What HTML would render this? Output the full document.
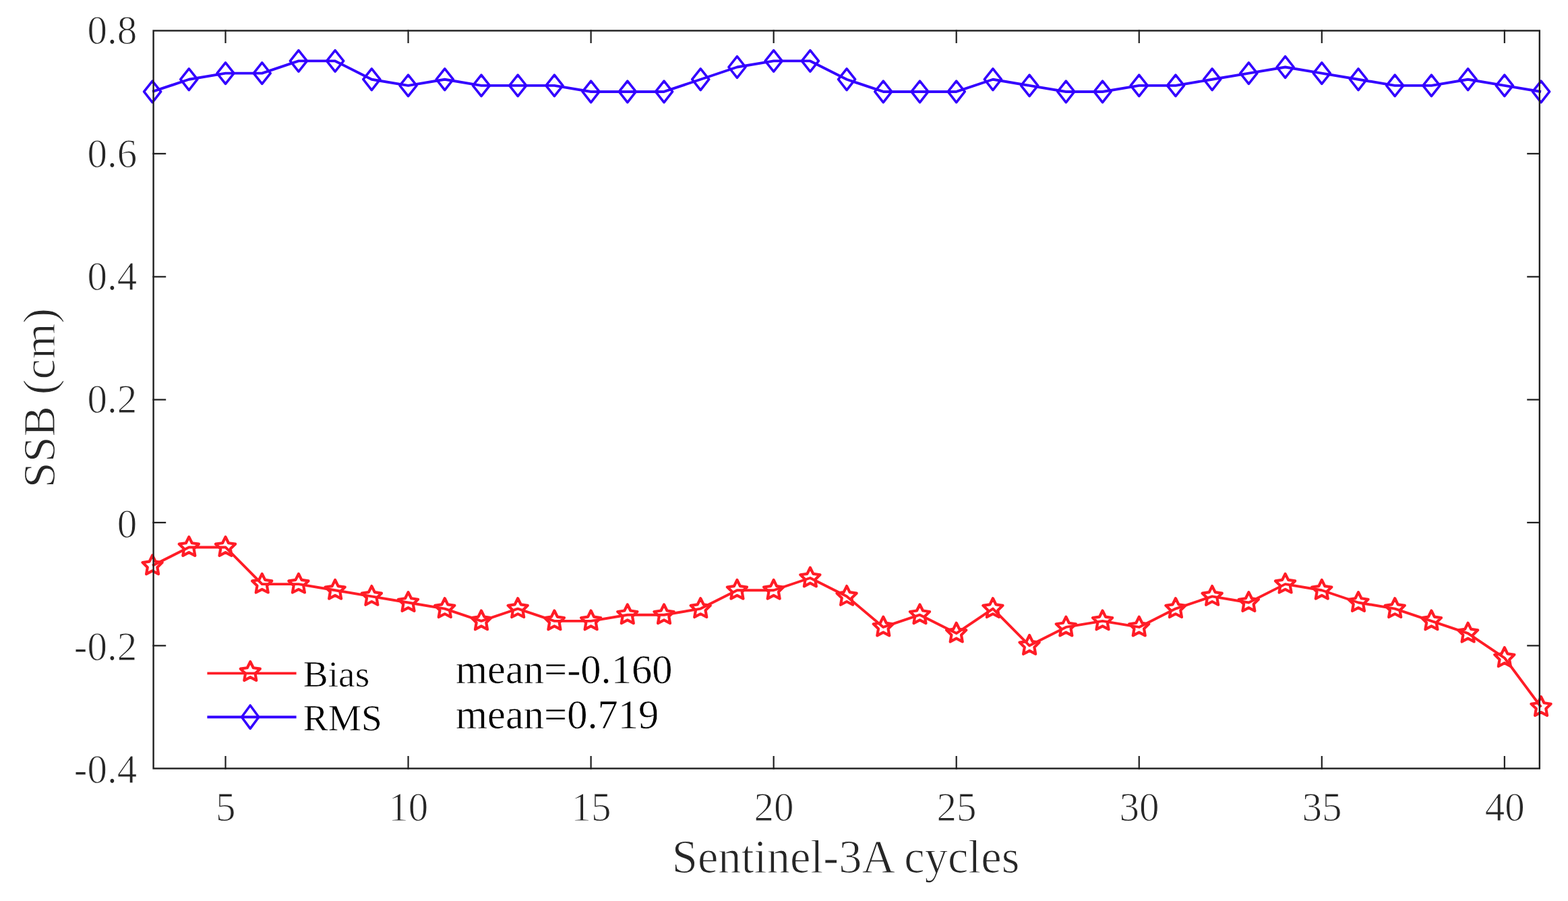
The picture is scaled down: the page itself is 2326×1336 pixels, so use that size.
<!DOCTYPE html><html><head><meta charset="utf-8"><style>html,body{margin:0;padding:0;background:#fff;width:2326px;height:1336px;overflow:hidden}svg{display:block}text{font-family:"Liberation Serif","Times New Roman",serif;stroke:#fff;stroke-width:1.1px}</style></head><body>
<svg width="2326" height="1336" viewBox="0 0 2326 1336">
<rect width="2326" height="1336" fill="#fff"/>
<polyline points="226.10,135.97 280.31,117.74 334.52,108.62 388.73,108.62 442.94,90.39 497.14,90.39 551.35,117.74 605.56,126.85 659.77,117.74 713.98,126.85 768.19,126.85 822.40,126.85 876.61,135.97 930.82,135.97 985.03,135.97 1039.23,117.74 1093.44,99.50 1147.65,90.39 1201.86,90.39 1256.07,117.74 1310.28,135.97 1364.49,135.97 1418.70,135.97 1472.91,117.74 1527.12,126.85 1581.33,135.97 1635.53,135.97 1689.74,126.85 1743.95,126.85 1798.16,117.74 1852.37,108.62 1906.58,99.50 1960.79,108.62 2015.00,117.74 2069.21,126.85 2123.41,126.85 2177.62,117.74 2231.83,126.85 2286.04,135.97" fill="none" stroke="#3300ff" stroke-width="3.9" stroke-linejoin="round" stroke-linecap="butt"/>
<polyline points="226.10,838.78 280.31,811.43 334.52,811.43 388.73,866.13 442.94,866.13 497.14,875.25 551.35,884.36 605.56,893.48 659.77,902.60 713.98,920.83 768.19,902.60 822.40,920.83 876.61,920.83 930.82,911.72 985.03,911.72 1039.23,902.60 1093.44,875.25 1147.65,875.25 1201.86,857.01 1256.07,884.36 1310.28,929.95 1364.49,911.72 1418.70,939.07 1472.91,902.60 1527.12,957.30 1581.33,929.95 1635.53,920.83 1689.74,929.95 1743.95,902.60 1798.16,884.36 1852.37,893.48 1906.58,866.13 1960.79,875.25 2015.00,893.48 2069.21,902.60 2123.41,920.83 2177.62,939.07 2231.83,975.53 2286.04,1048.47" fill="none" stroke="#ff1c26" stroke-width="3.9" stroke-linejoin="round" stroke-linecap="butt"/>
<path d="M226.10 120.17L238.60 135.97L226.10 151.77L213.60 135.97ZM280.31 101.94L292.81 117.74L280.31 133.54L267.81 117.74ZM334.52 92.82L347.02 108.62L334.52 124.42L322.02 108.62ZM388.73 92.82L401.23 108.62L388.73 124.42L376.23 108.62ZM442.94 74.59L455.44 90.39L442.94 106.19L430.44 90.39ZM497.14 74.59L509.64 90.39L497.14 106.19L484.64 90.39ZM551.35 101.94L563.85 117.74L551.35 133.54L538.85 117.74ZM605.56 111.05L618.06 126.85L605.56 142.65L593.06 126.85ZM659.77 101.94L672.27 117.74L659.77 133.54L647.27 117.74ZM713.98 111.05L726.48 126.85L713.98 142.65L701.48 126.85ZM768.19 111.05L780.69 126.85L768.19 142.65L755.69 126.85ZM822.40 111.05L834.90 126.85L822.40 142.65L809.90 126.85ZM876.61 120.17L889.11 135.97L876.61 151.77L864.11 135.97ZM930.82 120.17L943.32 135.97L930.82 151.77L918.32 135.97ZM985.03 120.17L997.53 135.97L985.03 151.77L972.53 135.97ZM1039.23 101.94L1051.73 117.74L1039.23 133.54L1026.73 117.74ZM1093.44 83.70L1105.94 99.50L1093.44 115.30L1080.94 99.50ZM1147.65 74.59L1160.15 90.39L1147.65 106.19L1135.15 90.39ZM1201.86 74.59L1214.36 90.39L1201.86 106.19L1189.36 90.39ZM1256.07 101.94L1268.57 117.74L1256.07 133.54L1243.57 117.74ZM1310.28 120.17L1322.78 135.97L1310.28 151.77L1297.78 135.97ZM1364.49 120.17L1376.99 135.97L1364.49 151.77L1351.99 135.97ZM1418.70 120.17L1431.20 135.97L1418.70 151.77L1406.20 135.97ZM1472.91 101.94L1485.41 117.74L1472.91 133.54L1460.41 117.74ZM1527.12 111.05L1539.62 126.85L1527.12 142.65L1514.62 126.85ZM1581.33 120.17L1593.83 135.97L1581.33 151.77L1568.83 135.97ZM1635.53 120.17L1648.03 135.97L1635.53 151.77L1623.03 135.97ZM1689.74 111.05L1702.24 126.85L1689.74 142.65L1677.24 126.85ZM1743.95 111.05L1756.45 126.85L1743.95 142.65L1731.45 126.85ZM1798.16 101.94L1810.66 117.74L1798.16 133.54L1785.66 117.74ZM1852.37 92.82L1864.87 108.62L1852.37 124.42L1839.87 108.62ZM1906.58 83.70L1919.08 99.50L1906.58 115.30L1894.08 99.50ZM1960.79 92.82L1973.29 108.62L1960.79 124.42L1948.29 108.62ZM2015.00 101.94L2027.50 117.74L2015.00 133.54L2002.50 117.74ZM2069.21 111.05L2081.71 126.85L2069.21 142.65L2056.71 126.85ZM2123.41 111.05L2135.91 126.85L2123.41 142.65L2110.91 126.85ZM2177.62 101.94L2190.12 117.74L2177.62 133.54L2165.12 117.74ZM2231.83 111.05L2244.33 126.85L2231.83 142.65L2219.33 126.85ZM2286.04 120.17L2298.54 135.97L2286.04 151.77L2273.54 135.97Z" fill="none" stroke="#3300ff" stroke-width="3.6" stroke-linejoin="round"/>
<path d="M226.10 823.48L230.60 832.59L240.65 834.05L233.38 841.14L235.09 851.16L226.10 846.43L217.11 851.16L218.82 841.14L211.55 834.05L221.60 832.59ZM280.31 796.13L284.81 805.24L294.86 806.70L287.58 813.79L289.30 823.81L280.31 819.08L271.32 823.81L273.03 813.79L265.76 806.70L275.81 805.24ZM334.52 796.13L339.01 805.24L349.07 806.70L341.79 813.79L343.51 823.81L334.52 819.08L325.52 823.81L327.24 813.79L319.97 806.70L330.02 805.24ZM388.73 850.83L393.22 859.94L403.28 861.40L396.00 868.49L397.72 878.51L388.73 873.78L379.73 878.51L381.45 868.49L374.18 861.40L384.23 859.94ZM442.94 850.83L447.43 859.94L457.49 861.40L450.21 868.49L451.93 878.51L442.94 873.78L433.94 878.51L435.66 868.49L428.38 861.40L438.44 859.94ZM497.14 859.95L501.64 869.06L511.70 870.52L504.42 877.61L506.14 887.62L497.14 882.90L488.15 887.62L489.87 877.61L482.59 870.52L492.65 869.06ZM551.35 869.06L555.85 878.18L565.91 879.64L558.63 886.73L560.35 896.74L551.35 892.01L542.36 896.74L544.08 886.73L536.80 879.64L546.86 878.18ZM605.56 878.18L610.06 887.29L620.11 888.75L612.84 895.84L614.56 905.86L605.56 901.13L596.57 905.86L598.29 895.84L591.01 888.75L601.07 887.29ZM659.77 887.30L664.27 896.41L674.32 897.87L667.05 904.96L668.77 914.98L659.77 910.25L650.78 914.98L652.50 904.96L645.22 897.87L655.28 896.41ZM713.98 905.53L718.48 914.64L728.53 916.10L721.26 923.20L722.97 933.21L713.98 928.48L704.99 933.21L706.71 923.20L699.43 916.10L709.48 914.64ZM768.19 887.30L772.69 896.41L782.74 897.87L775.47 904.96L777.18 914.98L768.19 910.25L759.20 914.98L760.91 904.96L753.64 897.87L763.69 896.41ZM822.40 905.53L826.90 914.64L836.95 916.10L829.67 923.20L831.39 933.21L822.40 928.48L813.41 933.21L815.12 923.20L807.85 916.10L817.90 914.64ZM876.61 905.53L881.10 914.64L891.16 916.10L883.88 923.20L885.60 933.21L876.61 928.48L867.61 933.21L869.33 923.20L862.06 916.10L872.11 914.64ZM930.82 896.42L935.31 905.53L945.37 906.99L938.09 914.08L939.81 924.09L930.82 919.37L921.82 924.09L923.54 914.08L916.27 906.99L926.32 905.53ZM985.03 896.42L989.52 905.53L999.58 906.99L992.30 914.08L994.02 924.09L985.03 919.37L976.03 924.09L977.75 914.08L970.47 906.99L980.53 905.53ZM1039.23 887.30L1043.73 896.41L1053.79 897.87L1046.51 904.96L1048.23 914.98L1039.23 910.25L1030.24 914.98L1031.96 904.96L1024.68 897.87L1034.74 896.41ZM1093.44 859.95L1097.94 869.06L1108.00 870.52L1100.72 877.61L1102.44 887.62L1093.44 882.90L1084.45 887.62L1086.17 877.61L1078.89 870.52L1088.95 869.06ZM1147.65 859.95L1152.15 869.06L1162.20 870.52L1154.93 877.61L1156.65 887.62L1147.65 882.90L1138.66 887.62L1140.38 877.61L1133.10 870.52L1143.16 869.06ZM1201.86 841.71L1206.36 850.82L1216.41 852.29L1209.14 859.38L1210.86 869.39L1201.86 864.66L1192.87 869.39L1194.59 859.38L1187.31 852.29L1197.37 850.82ZM1256.07 869.06L1260.57 878.18L1270.62 879.64L1263.35 886.73L1265.06 896.74L1256.07 892.01L1247.08 896.74L1248.80 886.73L1241.52 879.64L1251.57 878.18ZM1310.28 914.65L1314.78 923.76L1324.83 925.22L1317.56 932.31L1319.27 942.33L1310.28 937.60L1301.29 942.33L1303.00 932.31L1295.73 925.22L1305.78 923.76ZM1364.49 896.42L1368.99 905.53L1379.04 906.99L1371.76 914.08L1373.48 924.09L1364.49 919.37L1355.50 924.09L1357.21 914.08L1349.94 906.99L1359.99 905.53ZM1418.70 923.77L1423.19 932.88L1433.25 934.34L1425.97 941.43L1427.69 951.44L1418.70 946.72L1409.70 951.44L1411.42 941.43L1404.15 934.34L1414.20 932.88ZM1472.91 887.30L1477.40 896.41L1487.46 897.87L1480.18 904.96L1481.90 914.98L1472.91 910.25L1463.91 914.98L1465.63 904.96L1458.36 897.87L1468.41 896.41ZM1527.12 942.00L1531.61 951.11L1541.67 952.57L1534.39 959.66L1536.11 969.68L1527.12 964.95L1518.12 969.68L1519.84 959.66L1512.56 952.57L1522.62 951.11ZM1581.33 914.65L1585.82 923.76L1595.88 925.22L1588.60 932.31L1590.32 942.33L1581.33 937.60L1572.33 942.33L1574.05 932.31L1566.77 925.22L1576.83 923.76ZM1635.53 905.53L1640.03 914.64L1650.09 916.10L1642.81 923.20L1644.53 933.21L1635.53 928.48L1626.54 933.21L1628.26 923.20L1620.98 916.10L1631.04 914.64ZM1689.74 914.65L1694.24 923.76L1704.29 925.22L1697.02 932.31L1698.74 942.33L1689.74 937.60L1680.75 942.33L1682.47 932.31L1675.19 925.22L1685.25 923.76ZM1743.95 887.30L1748.45 896.41L1758.50 897.87L1751.23 904.96L1752.95 914.98L1743.95 910.25L1734.96 914.98L1736.68 904.96L1729.40 897.87L1739.46 896.41ZM1798.16 869.06L1802.66 878.18L1812.71 879.64L1805.44 886.73L1807.15 896.74L1798.16 892.01L1789.17 896.74L1790.89 886.73L1783.61 879.64L1793.66 878.18ZM1852.37 878.18L1856.87 887.29L1866.92 888.75L1859.65 895.84L1861.36 905.86L1852.37 901.13L1843.38 905.86L1845.09 895.84L1837.82 888.75L1847.87 887.29ZM1906.58 850.83L1911.08 859.94L1921.13 861.40L1913.85 868.49L1915.57 878.51L1906.58 873.78L1897.59 878.51L1899.30 868.49L1892.03 861.40L1902.08 859.94ZM1960.79 859.95L1965.28 869.06L1975.34 870.52L1968.06 877.61L1969.78 887.62L1960.79 882.90L1951.79 887.62L1953.51 877.61L1946.24 870.52L1956.29 869.06ZM2015.00 878.18L2019.49 887.29L2029.55 888.75L2022.27 895.84L2023.99 905.86L2015.00 901.13L2006.00 905.86L2007.72 895.84L2000.45 888.75L2010.50 887.29ZM2069.21 887.30L2073.70 896.41L2083.76 897.87L2076.48 904.96L2078.20 914.98L2069.21 910.25L2060.21 914.98L2061.93 904.96L2054.65 897.87L2064.71 896.41ZM2123.41 905.53L2127.91 914.64L2137.97 916.10L2130.69 923.20L2132.41 933.21L2123.41 928.48L2114.42 933.21L2116.14 923.20L2108.86 916.10L2118.92 914.64ZM2177.62 923.77L2182.12 932.88L2192.18 934.34L2184.90 941.43L2186.62 951.44L2177.62 946.72L2168.63 951.44L2170.35 941.43L2163.07 934.34L2173.13 932.88ZM2231.83 960.23L2236.33 969.35L2246.38 970.81L2239.11 977.90L2240.83 987.91L2231.83 983.18L2222.84 987.91L2224.56 977.90L2217.28 970.81L2227.34 969.35ZM2286.04 1033.17L2290.54 1042.28L2300.59 1043.74L2293.32 1050.83L2295.04 1060.85L2286.04 1056.12L2277.05 1060.85L2278.77 1050.83L2271.49 1043.74L2281.55 1042.28Z" fill="none" stroke="#ff1c26" stroke-width="4.2" stroke-linejoin="round"/>
<rect x="227.60" y="45.50" width="2056.20" height="1094.00" fill="none" stroke="#1f1f1f" stroke-width="2.4"/>
<path d="M226.40 227.94h19.8M2285.00 227.94h-19.8M226.40 410.28h19.8M2285.00 410.28h-19.8M226.40 592.62h19.8M2285.00 592.62h-19.8M226.40 774.96h19.8M2285.00 774.96h-19.8M226.40 957.30h19.8M2285.00 957.30h-19.8M334.52 1140.70v-19.8M334.52 44.30v19.8M605.56 1140.70v-19.8M605.56 44.30v19.8M876.61 1140.70v-19.8M876.61 44.30v19.8M1147.65 1140.70v-19.8M1147.65 44.30v19.8M1418.70 1140.70v-19.8M1418.70 44.30v19.8M1689.74 1140.70v-19.8M1689.74 44.30v19.8M1960.79 1140.70v-19.8M1960.79 44.30v19.8M2231.83 1140.70v-19.8M2231.83 44.30v19.8" stroke="#1f1f1f" stroke-width="2.2" fill="none"/>
<text transform="translate(203.3 65.2) scale(0.96 1)" font-size="61.5" fill="#262626" text-anchor="end">0.8</text>
<text transform="translate(203.3 247.5) scale(0.96 1)" font-size="61.5" fill="#262626" text-anchor="end">0.6</text>
<text transform="translate(203.3 429.9) scale(0.96 1)" font-size="61.5" fill="#262626" text-anchor="end">0.4</text>
<text transform="translate(203.3 612.2) scale(0.96 1)" font-size="61.5" fill="#262626" text-anchor="end">0.2</text>
<text transform="translate(203.3 796.6) scale(0.96 1)" font-size="61.5" fill="#262626" text-anchor="end">0</text>
<text transform="translate(203.3 978.9) scale(0.96 1)" font-size="61.5" fill="#262626" text-anchor="end">-0.2</text>
<text transform="translate(203.3 1161.2) scale(0.96 1)" font-size="61.5" fill="#262626" text-anchor="end">-0.4</text>
<text transform="translate(334.82 1216.6) scale(0.96 1)" font-size="61.5" fill="#262626" text-anchor="middle">5</text>
<text transform="translate(605.86 1216.6) scale(0.96 1)" font-size="61.5" fill="#262626" text-anchor="middle">10</text>
<text transform="translate(876.91 1216.6) scale(0.96 1)" font-size="61.5" fill="#262626" text-anchor="middle">15</text>
<text transform="translate(1147.95 1216.6) scale(0.96 1)" font-size="61.5" fill="#262626" text-anchor="middle">20</text>
<text transform="translate(1419.00 1216.6) scale(0.96 1)" font-size="61.5" fill="#262626" text-anchor="middle">25</text>
<text transform="translate(1690.04 1216.6) scale(0.96 1)" font-size="61.5" fill="#262626" text-anchor="middle">30</text>
<text transform="translate(1961.09 1216.6) scale(0.96 1)" font-size="61.5" fill="#262626" text-anchor="middle">35</text>
<text transform="translate(2232.13 1216.6) scale(0.96 1)" font-size="61.5" fill="#262626" text-anchor="middle">40</text>
<text transform="translate(1254.6 1294.3) scale(0.979 1)" x="0" y="0" font-size="70" fill="#262626" text-anchor="middle">Sentinel-3A cycles</text>
<text transform="translate(80.6 590) rotate(-90)" x="0" y="0" font-size="68" fill="#262626" text-anchor="middle">SSB (cm)</text>
<path d="M307.4 998.4H439.6" stroke="#ff1c26" stroke-width="3.9"/>
<path d="M371.30 981.10L375.80 990.21L385.85 991.67L378.58 998.76L380.29 1008.78L371.30 1004.05L362.31 1008.78L364.02 998.76L356.75 991.67L366.80 990.21Z" fill="none" stroke="#ff1c26" stroke-width="4.2" stroke-linejoin="round"/>
<path d="M307.4 1063.2H439.6" stroke="#3300ff" stroke-width="3.9"/>
<path d="M371.2 1046.00L383.90 1063.20L371.2 1080.40L358.50 1063.20Z" fill="none" stroke="#3300ff" stroke-width="3.6" stroke-linejoin="round"/>
<text transform="translate(449.8 1018) scale(1.02 1)" font-size="54.3" fill="#000" style="stroke-width:0.6px">Bias</text>
<text transform="translate(449.8 1082.5) scale(1.02 1)" font-size="54.3" fill="#000" style="stroke-width:0.6px">RMS</text>
<text x="676" y="1012.7" font-size="60.5" fill="#000" style="stroke-width:0.6px">mean=-0.160</text>
<text x="676" y="1080.4" font-size="60.5" fill="#000" style="stroke-width:0.6px">mean=0.719</text>
</svg></body></html>
